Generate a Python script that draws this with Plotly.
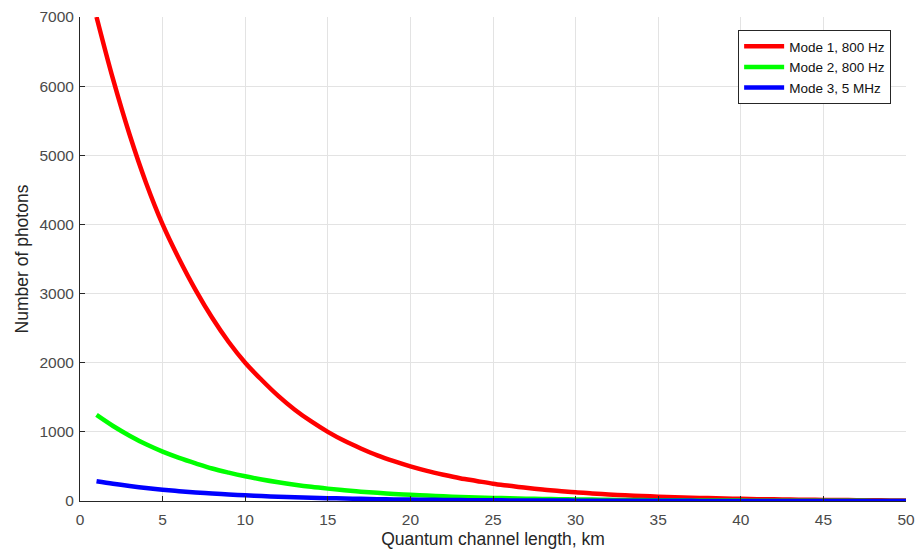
import plotly.graph_objects as go

distance_km = list(range(1, 51))

mode1_800hz = [7000, 6100, 5300, 4600, 4000, 3500, 3050, 2650, 2300, 2000,
               1750, 1520, 1320, 1150, 1000, 870, 760, 660, 575, 500,
               435, 380, 330, 290, 250, 220, 190, 165, 145, 125,
               110, 95, 83, 72, 63, 55, 48, 42, 36, 31,
               27, 24, 21, 18, 16, 14, 12, 10, 9, 8]

mode2_800hz = [1245, 1085, 945, 820, 715, 625, 545, 470, 410, 357,
               311, 271, 236, 205, 179, 156, 135, 118, 103, 89,
               78, 68, 59, 51, 45, 39, 34, 30, 26, 22,
               20, 17, 15, 13, 11, 10, 8.5, 7.4, 6.4, 5.6,
               4.9, 4.3, 3.7, 3.2, 2.8, 2.5, 2.1, 1.8, 1.6, 1.4]

mode3_5mhz = [285, 248, 216, 188, 163, 142, 124, 108, 94, 82,
              71, 62, 54, 47, 41, 36, 31, 27, 23, 20,
              18, 15, 13, 12, 10, 9, 8, 7, 6, 5,
              4.4, 3.8, 3.3, 2.9, 2.5, 2.2, 1.9, 1.7, 1.4, 1.3,
              1.1, 1.0, 0.8, 0.7, 0.6, 0.55, 0.5, 0.4, 0.35, 0.3]

series = [
    ("Mode 1, 800 Hz", mode1_800hz, "#ff0000"),
    ("Mode 2, 800 Hz", mode2_800hz, "#00ff00"),
    ("Mode 3, 5 MHz", mode3_5mhz, "#0000ff"),
]

x_ticks = [0, 5, 10, 15, 20, 25, 30, 35, 40, 45, 50]
y_ticks = [0, 1000, 2000, 3000, 4000, 5000, 6000, 7000]

font_family = "Liberation Sans, Arial, sans-serif"
axis_color = "#262626"

fig = go.Figure()
for name, vals, color in series:
    fig.add_trace(go.Scatter(
        x=distance_km, y=vals, mode="lines", name=name,
        line=dict(color=color, width=4.5, shape="spline"),
    ))

axis_common = dict(
    showline=True, linecolor=axis_color, linewidth=1,
    ticks="inside", ticklen=5, tickcolor=axis_color,
    showgrid=True, gridcolor="#e3e3e3", gridwidth=1,
    zeroline=False, mirror=False, automargin=False,
    tickfont=dict(family=font_family, size=15.5, color="#4a4a4a"),
)

fig.update_layout(
    width=918, height=552,
    margin=dict(l=80, r=12, t=17, b=51),
    paper_bgcolor="white", plot_bgcolor="white",
    font=dict(family=font_family, color=axis_color),
    xaxis=dict(range=[0, 50], tickvals=x_ticks, ticklabelstandoff=4,
               title=dict(text="Quantum channel length, km",
                          font=dict(family=font_family, size=17.5, color=axis_color),
                          standoff=6),
               **axis_common),
    yaxis=dict(range=[0, 7000], tickvals=y_ticks, ticklabelstandoff=2,
               title=dict(text="Number of photons",
                          font=dict(family=font_family, size=17.5, color=axis_color),
                          standoff=6),
               **axis_common),
    legend=dict(x=0.982, y=0.973, xanchor="right", yanchor="top",
                bgcolor="white", bordercolor=axis_color, borderwidth=1,
                font=dict(family=font_family, size=13.5, color="#111111"),
                itemwidth=40, tracegroupgap=0),
    showlegend=True,
)

fig.write_html("out.html")
